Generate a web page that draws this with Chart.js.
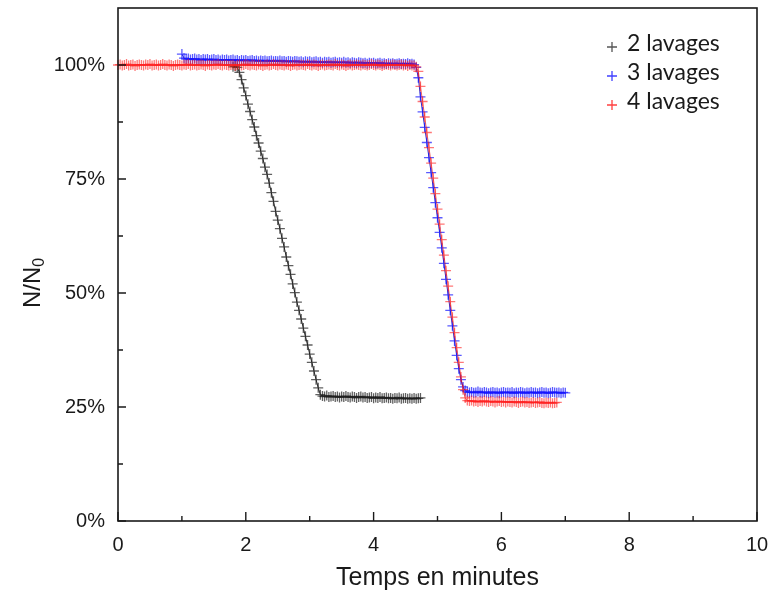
<!DOCTYPE html>
<html>
<head>
<meta charset="utf-8">
<script src="https://cdn.jsdelivr.net/npm/chart.js@4.4.1/dist/chart.umd.min.js"></script>
<style>
  html, body { margin: 0; padding: 0; background: #fff; }
  #wrap { width: 771px; height: 599px; }
</style>
</head>
<body>
<div id="wrap"><canvas id="chart" width="771" height="599"></canvas></div>
<script>
// ======================
// DATA
// ======================

// one sample every 2 s, times in minutes
const sampleStep = 2 / 60;

const seriesNames = ["2 lavages", "3 lavages", "4 lavages"];
const startTimes = [1.8, 1.0, 0];

const xTicks = [0, 2, 4, 6, 8, 10];
const yTicks = [0, 25, 50, 75, 100];

// N/N0 in %
const lavages2 = [
  99.6,99.7,99.5,
  98.4,96.8,95.0,93.3,91.4,89.8,88.0,86.4,84.5,82.9,
  81.1,79.5,77.6,76.0,74.1,72.0,70.1,67.9,66.0,64.1,
  62.0,60.1,57.9,56.0,54.1,52.0,50.1,48.0,46.2,44.3,
  42.3,40.5,38.6,36.6,34.8,32.9,31.0,29.2,27.7,
  27.4,27.3,27.5,27.2,27.3,27.4,27.2,27.3,27.1,27.3,
  27.2,27.4,27.2,27.1,27.3,27.2,27.0,27.2,27.3,27.1,
  27.2,27.0,27.1,27.2,26.9,27.1,27.0,27.2,26.9,27.0,
  27.1,26.9,27.0,26.8,27.0,26.9,27.1,26.8,26.9,27.0,
  26.8,26.9,26.8,27.0,26.8,26.9,27.0
];

const lavages3 = [
  102.4,
  101.5,101.3,101.4,101.2,101.3,101.4,101.2,101.3,101.1,101.3,
  101.2,101.3,101.1,101.2,101.3,101.1,101.2,101.0,101.2,101.1,
  101.2,101.0,101.1,101.2,101.0,101.1,100.9,101.1,101.0,101.1,
  100.9,101.0,101.1,100.9,101.0,100.8,101.0,100.9,101.0,100.8,
  100.9,101.0,100.8,100.9,100.8,101.0,100.8,100.9,100.7,100.9,
  100.8,100.7,100.9,100.8,100.7,100.8,100.6,100.8,100.7,100.8,
  100.6,100.7,100.8,100.6,100.7,100.5,100.7,100.6,100.7,100.5,
  100.6,100.7,100.5,100.6,100.5,100.7,100.5,100.6,100.4,100.6,
  100.5,100.4,100.6,100.5,100.4,100.5,100.3,100.5,100.4,100.5,
  100.3,100.4,100.5,100.3,100.4,100.2,100.4,100.3,100.4,100.2,
  100.3,100.4,100.2,100.3,100.2,100.4,100.2,100.3,100.1,
  99.5,
  97.2,93.0,89.7,86.3,83.0,79.7,76.4,73.1,69.8,66.5,
  63.3,59.9,56.5,53.0,49.6,46.2,42.8,39.5,36.3,33.4,
  31.0,29.4,28.6,28.3,
  28.2,28.3,28.1,28.2,28.4,28.2,28.1,28.3,28.2,28.0,
  28.2,28.3,28.1,28.2,28.0,28.2,28.3,28.1,28.2,28.1,
  28.3,28.0,28.2,28.1,28.3,28.2,28.0,28.2,28.1,28.3,
  28.1,28.2,28.0,28.2,28.3,28.1,28.2,28.0,28.1,28.3,
  28.2,28.1,28.2,28.0,28.2,28.1
];

const lavages4 = [
  100.0,100.1,99.9,100.0,100.2,99.9,100.0,100.1,99.8,100.0,
  100.1,100.0,99.9,100.1,100.0,100.2,99.9,100.0,100.1,99.9,
  100.0,100.2,100.0,99.9,100.1,100.0,99.8,100.0,100.1,100.0,
  99.9,100.1,100.0,100.2,99.9,100.0,100.1,99.9,100.0,100.1,
  100.0,99.8,100.1,100.0,99.9,100.1,100.0,100.2,100.0,99.9,
  100.1,100.0,99.9,100.0,100.1,99.8,100.0,100.1,99.9,100.0,
  100.2,100.0,99.9,100.1,100.0,99.9,100.1,100.0,99.8,100.0,
  100.1,99.9,100.0,100.2,100.0,99.9,100.1,100.0,99.9,100.1,
  100.0,99.8,100.0,100.1,99.9,100.0,100.1,100.0,99.9,100.2,
  100.0,99.9,100.1,100.0,99.8,100.0,100.1,99.9,100.0,100.1,
  100.0,99.9,100.2,100.0,99.9,100.1,100.0,99.8,100.0,100.1,
  99.9,100.0,100.1,100.0,99.9,100.1,100.0,99.9,100.0,100.2,
  100.0,99.9,100.1,100.0,99.8,100.0,100.1,100.0,99.9,100.1,
  100.0,99.9,100.0,100.1,99.9,100.0,99.8,100.0,99.9,99.9,
  99.6,
  98.6,95.3,92.0,88.6,85.2,81.9,78.5,75.2,71.8,68.4,
  65.1,61.7,58.3,54.9,51.5,48.1,44.7,41.3,38.0,34.8,
  31.6,28.8,27.0,26.4,
  26.3,26.4,26.2,26.3,26.1,26.3,26.2,26.4,26.2,26.1,
  26.3,26.2,26.0,26.2,26.3,26.1,26.2,26.0,26.2,26.1,
  26.0,26.2,26.1,25.9,26.1,26.2,26.0,26.1,25.9,26.0,
  26.1,25.9,26.0,26.1,25.9,25.8,26.0,25.9,26.0,25.8,
  25.9,26.0
];

const seriesValues = [lavages2, lavages3, lavages4];
const pointColors = ["rgba(30,30,30,0.7)", "rgba(20,20,255,0.7)", "rgba(255,30,30,0.6)"];
const lineColors = ["rgba(0,0,0,0.85)", "rgba(0,0,200,0.85)", "rgba(230,0,0,0.6)"];
const legendColors = ["#555", "#4040ff", "#ff4040"];

// turn each recorded run into {x,y} points
function toPoints(values, start) {
  return values.map((v, i) => ({ x: start + i * sampleStep, y: v }));
}

// ======================
// FRAME / TICKS / TITLES / LEGEND
// ======================
const framePlugin = {
  id: "frame",
  afterDraw(chart) {
    const ctx = chart.ctx;
    const a = chart.chartArea;
    const xs = chart.scales.x;
    const ys = chart.scales.y;
    ctx.save();
    ctx.strokeStyle = "#1a1a1a";
    ctx.lineWidth = 1.6;
    ctx.strokeRect(a.left, a.top, a.right - a.left, a.bottom - a.top);

    // inward ticks
    ctx.lineWidth = 1.4;
    ctx.beginPath();
    for (let v = 0; v <= 10; v++) {
      const px = xs.getPixelForValue(v);
      const len = v % 2 === 0 ? 9 : 5;
      ctx.moveTo(px, a.bottom);
      ctx.lineTo(px, a.bottom - len);
    }
    for (let v = 0; v <= 100; v += 12.5) {
      const py = ys.getPixelForValue(v);
      const len = v % 25 === 0 ? 8 : 5;
      ctx.moveTo(a.left, py);
      ctx.lineTo(a.left + len, py);
    }
    ctx.stroke();

    // axis titles
    ctx.fillStyle = "#1a1a1a";
    ctx.font = "25px 'Liberation Sans', Arial, sans-serif";
    ctx.textAlign = "center";
    ctx.textBaseline = "middle";
    ctx.fillText("Temps en minutes", (a.left + a.right) / 2, 578);

    ctx.save();
    ctx.translate(33, 283);
    ctx.rotate(-Math.PI / 2);
    ctx.font = "24px 'Liberation Sans', Arial, sans-serif";
    const main = "N/N";
    const wMain = ctx.measureText(main).width;
    ctx.font = "16px 'Liberation Sans', Arial, sans-serif";
    const wSub = ctx.measureText("0").width;
    const x0 = -(wMain + wSub) / 2;
    ctx.textAlign = "left";
    ctx.font = "24px 'Liberation Sans', Arial, sans-serif";
    ctx.fillText(main, x0, 0);
    ctx.font = "16px 'Liberation Sans', Arial, sans-serif";
    ctx.fillText("0", x0 + wMain, 7);
    ctx.restore();

    // legend
    ctx.textAlign = "left";
    ctx.textBaseline = "middle";
    ctx.font = "23px Lato, 'Open Sans', sans-serif";
    seriesNames.forEach((name, i) => {
      const y = 44 + i * 29;
      ctx.strokeStyle = legendColors[i];
      ctx.lineWidth = 1.3;
      ctx.beginPath();
      ctx.moveTo(607, y + 3); ctx.lineTo(617, y + 3);
      ctx.moveTo(612, y - 2); ctx.lineTo(612, y + 8);
      ctx.stroke();
      ctx.fillStyle = "#1a1a1a";
      ctx.fillText(name, 627, y);
    });
    ctx.restore();
  }
};

new Chart(document.getElementById("chart"), {
  type: "line",
  data: {
    datasets: seriesValues.map((vals, i) => ({
      label: seriesNames[i],
      data: toPoints(vals, startTimes[i]),
      borderColor: lineColors[i],
      borderWidth: 1,
      pointStyle: "cross",
      pointRadius: 5,
      pointBorderWidth: 1.3,
      pointBorderColor: pointColors[i],
      pointBackgroundColor: pointColors[i],
      fill: false,
      tension: 0,
      clip: false,
      order: 3 - i
    }))
  },
  options: {
    responsive: false,
    animation: false,
    layout: { padding: { left: 0, right: 14, top: 8, bottom: 0 } },
    plugins: { legend: { display: false }, tooltip: { enabled: false } },
    scales: {
      x: {
        type: "linear",
        min: 0,
        max: 10,
        afterBuildTicks: s => { s.ticks = xTicks.map(v => ({ value: v })); },
        afterFit: s => { s.height = 78; s.paddingLeft = 0; s.paddingRight = 0; },
        grid: { display: false, drawTicks: false },
        border: { display: false },
        ticks: {
          padding: 12,
          color: "#1a1a1a",
          font: { family: "'Liberation Sans', Arial, sans-serif", size: 20 },
          maxRotation: 0
        }
      },
      y: {
        min: 0,
        max: 112.5,
        afterBuildTicks: s => { s.ticks = yTicks.map(v => ({ value: v })); },
        afterFit: s => { s.width = 118; s.paddingTop = 0; s.paddingBottom = 0; },
        grid: { display: false, drawTicks: false },
        border: { display: false },
        ticks: {
          padding: 13,
          color: "#1a1a1a",
          font: { family: "'Liberation Sans', Arial, sans-serif", size: 20 },
          callback: v => v + "%"
        }
      }
    }
  },
  plugins: [framePlugin]
});
</script>
</body>
</html>
